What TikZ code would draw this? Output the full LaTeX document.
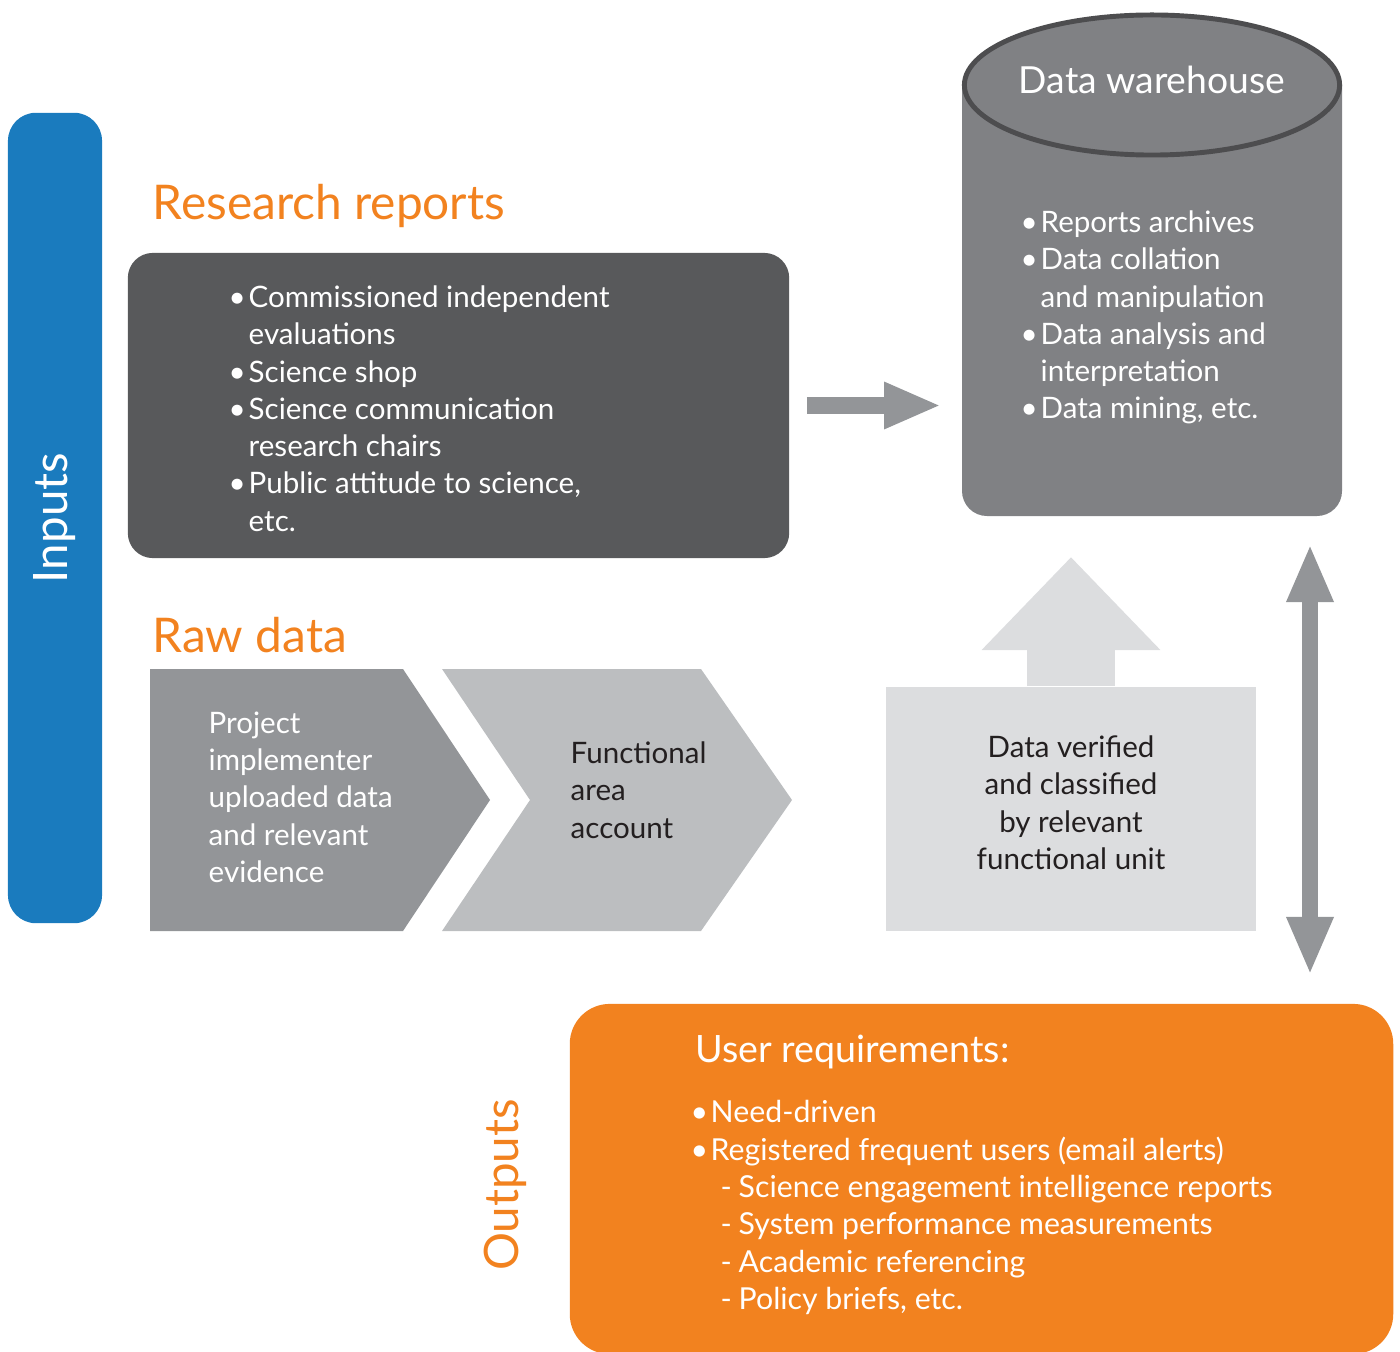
\documentclass[tikz,border=0pt]{standalone}
\usepackage{fontspec}
\setmainfont{Lato}
\usetikzlibrary{arrows.meta,calc}
\definecolor{cblue}{HTML}{1A7BBE}
\definecolor{corange}{HTML}{F2821F}
\definecolor{cdark}{HTML}{58595B}
\definecolor{cwh}{HTML}{808184}
\definecolor{cwhline}{HTML}{4D4D4F}
\definecolor{cmid}{HTML}{939598}
\definecolor{clight}{HTML}{BCBEC0}
\definecolor{cpale}{HTML}{DCDDDF}
\definecolor{ctext}{HTML}{231F20}
\newcommand\bitem{\makebox[0.2cm][l]{•}}
\newcommand\bcont{\hspace*{0.2cm}}
\newcommand\ditem{\hspace*{0.3cm}\makebox[0.18cm][l]{-}}
\begin{document}
\begin{tikzpicture}[x=0.01cm,y=-0.01cm,
  body/.style={inner sep=0pt, font=\fontsize{8.4}{10.6}\selectfont},
  heading/.style={inner sep=0pt, text=corange, font=\fontsize{13.6}{16}\selectfont},
  blockarrow/.style={draw=cmid, line width=0.17cm},
]
\useasboundingbox (0,0) rectangle (1400,1352);

% Inputs bar
\node[fill=cblue, rounded corners=0.28cm, minimum width=8.1cm, minimum height=0.94cm,
      inner sep=0pt, rotate=90, text=white, font=\fontsize{13.5}{16}\selectfont] (inputs) at (55,518) {Inputs};

% Research reports
\node[heading, anchor=base west] (rrtitle) at (152,220) {Research reports};
\node[fill=cdark, rounded corners=0.25cm, minimum width=6.61cm, minimum height=3.05cm, inner sep=0pt]
  (research) at (458.5,405.5) {};
\node[body, text=white, anchor=north west, align=left] (rrtext) at (228,285)
  {\bitem Commissioned independent\\
   \bcont evaluations\\
   \bitem Science shop\\
   \bitem Science communication\\
   \bcont research chairs\\
   \bitem Public attitude to science,\\
   \bcont etc.};

% Data warehouse
\node[minimum width=3.8cm, minimum height=5.03cm, inner sep=0pt] (wh) at (1152,264.5) {};
\fill[cwh] (962,85) -- (962,491) arc[start angle=180, end angle=270, radius=0.25cm]
  -- (1317,516) arc[start angle=270, end angle=360, radius=0.25cm] -- (1342,85) -- cycle;
\draw[fill=cwh, draw=cwhline, line width=1.4pt] (1152,85) ellipse [x radius=1.875cm, y radius=0.7cm];
\node[inner sep=0pt, text=white, font=\fontsize{10.6}{13}\selectfont] (whtitle) at (1152,80) {Data warehouse};
\node[body, text=white, anchor=north west, align=left] (whtext) at (1020,210)
  {\bitem Reports archives\\
   \bitem Data collation\\
   \bcont and manipulation\\
   \bitem Data analysis and\\
   \bcont interpretation\\
   \bitem Data mining, etc.};

% arrow research -> warehouse
\draw[blockarrow, -{Triangle[length=0.57cm, width=0.43cm]}, shorten <=0.17cm, shorten >=0.2cm]
  (research.east) -- (research.east -| wh.west);

% Raw data
\node[heading, anchor=base west] (rdtitle) at (152,652) {Raw data};
\fill[cmid] (150,669) -- (403,669) -- (490,800) -- (403,931) -- (150,931) -- cycle;
\fill[clight] (442,669) -- (701,669) -- (792,800) -- (701,931) -- (442,931) -- (530,800) -- cycle;
\node[body, text=white, anchor=north west, align=left] (proj) at (208,711)
  {Project\\implementer\\uploaded data\\and relevant\\evidence};
\node[body, text=ctext, anchor=north west, align=left] (func) at (570,741)
  {Functional\\area\\account};

% verification box with up arrow
\node[fill=cpale, minimum width=3.7cm, minimum height=2.44cm, inner sep=0pt] (verify) at (1071,809) {};
\coordinate (uptip) at (1071,557);
\draw[draw=cpale, line width=0.87cm, -{Triangle[length=0.93cm, width=1.73cm]}] (verify.north) -- (uptip);
\node[body, text=ctext, anchor=north, align=center] (vtext) at (1071,735)
  {Data verified\\and classified\\by relevant\\functional unit};

% double arrow
\coordinate (dtop) at (1310,544);
\coordinate (dbot) at (1310,975);
\draw[draw=cmid, line width=0.16cm, {Triangle[length=0.58cm, width=0.43cm]}-{Triangle[length=0.58cm, width=0.43cm]}] (dtop) -- (dbot);

% Outputs
\node[fill=corange, rounded corners=0.4cm, minimum width=8.23cm, minimum height=3.5cm, inner sep=0pt]
  (user) at (981.5,1179) {};
\node[inner sep=0pt, rotate=90, text=corange, font=\fontsize{13.5}{16}\selectfont] (outputs) at (505,1185) {Outputs};
\node[inner sep=0pt, anchor=north west, text=white, font=\fontsize{10.7}{14}\selectfont] (utitle) at (695,1034) {User requirements:};
\node[inner sep=0pt, anchor=north west, align=left, text=white, font=\fontsize{8.6}{10.6}\selectfont] (utext) at (690,1100)
  {\bitem Need-driven\\
   \bitem Registered frequent users (email alerts)\\
   \ditem Science engagement intelligence reports\\
   \ditem System performance measurements\\
   \ditem Academic referencing\\
   \ditem Policy briefs, etc.};
\end{tikzpicture}
\end{document}
